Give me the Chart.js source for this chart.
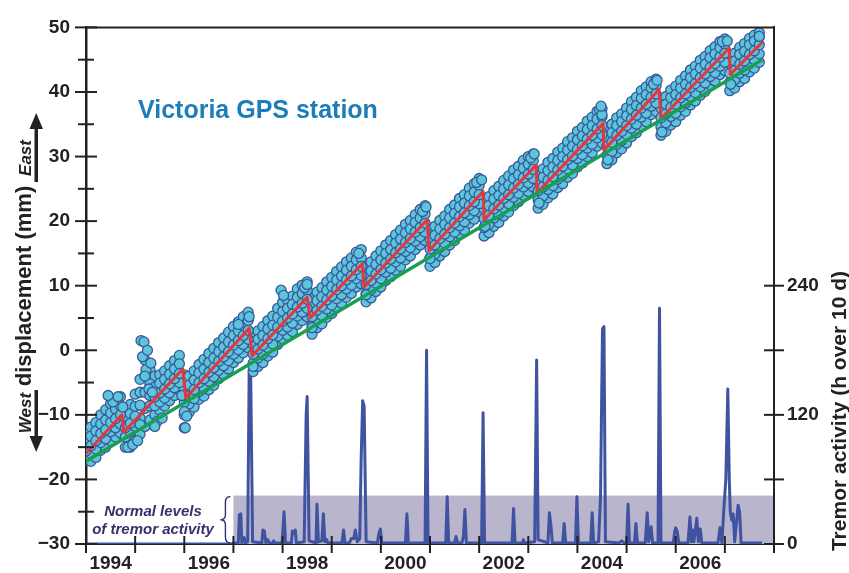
<!DOCTYPE html>
<html>
<head>
<meta charset="utf-8">
<script src="https://cdn.jsdelivr.net/npm/chart.js@4.4.1/dist/chart.umd.min.js"></script>
<style>
  html, body { margin: 0; padding: 0; background: #fff; }
  #wrap { width: 849px; height: 573px; }
</style>
</head>
<body>
<div id="wrap"><canvas id="gpsChart" width="849" height="573"></canvas></div>
<script>
// GPS daily positions, sampled every 0.1 yr (five rows across the width of the cloud)
const gpsYears = [
  1994.0, 1994.1, 1994.2, 1994.3, 1994.4, 1994.5, 1994.6, 1994.7, 1994.8, 1994.9,
  1995.0, 1995.1, 1995.2, 1995.3, 1995.4, 1995.5, 1995.6, 1995.7, 1995.8, 1995.9,
  1996.0, 1996.1, 1996.2, 1996.3, 1996.4, 1996.5, 1996.6, 1996.7, 1996.8, 1996.9,
  1997.0, 1997.1, 1997.2, 1997.3, 1997.4, 1997.5, 1997.6, 1997.7, 1997.8, 1997.9,
  1998.0, 1998.1, 1998.2, 1998.3, 1998.4, 1998.5, 1998.6, 1998.7, 1998.8, 1998.9,
  1999.0, 1999.1, 1999.2, 1999.3, 1999.4, 1999.5, 1999.6, 1999.7, 1999.8, 1999.9,
  2000.0, 2000.1, 2000.2, 2000.3, 2000.4, 2000.5, 2000.6, 2000.7, 2000.8, 2000.9,
  2001.0, 2001.1, 2001.2, 2001.3, 2001.4, 2001.5, 2001.6, 2001.7, 2001.8, 2001.9,
  2002.0, 2002.1, 2002.2, 2002.3, 2002.4, 2002.5, 2002.6, 2002.7, 2002.8, 2002.9,
  2003.0, 2003.1, 2003.2, 2003.3, 2003.4, 2003.5, 2003.6, 2003.7, 2003.8, 2003.9,
  2004.0, 2004.1, 2004.2, 2004.3, 2004.4, 2004.5, 2004.6, 2004.7, 2004.8, 2004.9,
  2005.0, 2005.1, 2005.2, 2005.3, 2005.4, 2005.5, 2005.6, 2005.7, 2005.8, 2005.9,
  2006.0, 2006.1, 2006.2, 2006.3, 2006.4, 2006.5, 2006.6, 2006.7, 2006.8, 2006.9,
  2007.0, 2007.1, 2007.2, 2007.3, 2007.4, 2007.5, 2007.6, 2007.7
];
const gpsHigh = [
  -12.8, -11.9, -11.2, -10.0, -9.2, -8.3, -7.8, -7.2, -9.2, -8.4,
  -6.8, -4.5, -1.5, -3.0, -4.0, -3.8, -3.2, -2.4, -1.6, -0.8,
  -3.8, -4.0, -3.2, -2.2, -1.4, -0.5, 0.3, 1.2, 1.9, 2.8,
  3.7, 4.4, 5.2, 5.9, 2.3, 3.0, 3.7, 4.6, 5.3, 6.5,
  7.4, 7.8, 8.4, 9.5, 10.1, 10.6, 8.0, 9.0, 9.7, 10.6,
  11.3, 12.2, 12.9, 13.7, 14.3, 15.2, 15.6, 13.0, 13.7, 14.6,
  15.4, 16.3, 17.0, 17.9, 18.6, 19.5, 20.1, 21.0, 21.8, 22.4,
  18.5, 19.2, 20.1, 20.8, 21.8, 22.5, 23.5, 24.1, 25.1, 25.8,
  26.6, 23.0, 23.8, 24.7, 25.4, 26.3, 27.0, 27.9, 28.5, 29.4,
  30.0, 30.4, 27.3, 28.1, 29.1, 29.7, 30.7, 31.3, 32.3, 32.9,
  33.9, 34.5, 35.5, 36.1, 37.0, 37.4, 34.4, 35.0, 36.0, 36.6,
  37.5, 38.5, 39.2, 40.2, 40.8, 41.6, 42.0, 38.6, 39.3, 40.3,
  40.9, 41.8, 42.5, 43.4, 44.0, 44.9, 45.5, 46.4, 47.0, 47.8,
  48.2, 45.5, 46.0, 46.9, 47.5, 48.3, 48.8, 49.2
];
const gpsUpper = [
  -14.0, -13.3, -12.5, -11.4, -10.8, -9.7, -9.1, -8.6, -10.5, -9.8,
  -8.7, -6.5, -4.0, -5.2, -5.7, -5.1, -4.5, -3.7, -2.9, -2.1,
  -6.0, -5.4, -4.6, -3.5, -2.9, -1.9, -1.2, -0.2, 0.5, 1.3,
  2.3, 3.0, 3.8, 4.6, 0.9, 1.7, 2.3, 3.3, 3.9, 5.1,
  6.0, 6.5, 7.1, 8.2, 8.8, 9.3, 6.7, 7.7, 8.3, 9.3,
  9.9, 10.9, 11.5, 12.4, 13.0, 14.0, 14.3, 11.7, 12.3, 13.3,
  14.0, 15.0, 15.6, 16.6, 17.2, 18.2, 18.8, 19.8, 20.5, 21.1,
  17.2, 17.8, 18.8, 19.5, 20.5, 21.2, 22.2, 22.8, 23.9, 24.5,
  25.5, 21.9, 22.4, 23.4, 24.0, 25.0, 25.6, 26.6, 27.2, 28.2,
  28.8, 29.3, 26.2, 26.8, 27.8, 28.4, 29.4, 30.0, 31.0, 31.6,
  32.6, 33.2, 34.2, 34.8, 35.8, 36.2, 33.1, 33.7, 34.8, 35.4,
  36.3, 37.3, 37.9, 39.0, 39.6, 40.6, 41.0, 37.5, 38.1, 39.1,
  39.6, 40.6, 41.2, 42.2, 42.8, 43.7, 44.3, 45.3, 45.9, 46.8,
  47.4, 44.4, 44.8, 45.8, 46.3, 47.3, 47.9, 48.6
];
const gpsMid = [
  -15.6, -14.8, -14.0, -12.9, -12.3, -11.2, -10.6, -10.0, -12.0, -11.3,
  -10.2, -8.5, -6.5, -7.0, -7.2, -6.6, -6.0, -5.2, -4.4, -3.6,
  -8.0, -6.9, -6.1, -5.0, -4.4, -3.4, -2.7, -1.7, -1.0, -0.2,
  0.8, 1.5, 2.3, 3.1, -0.6, 0.2, 0.8, 1.8, 2.4, 3.6,
  4.5, 5.0, 5.6, 6.7, 7.3, 7.9, 5.2, 6.2, 6.8, 7.8,
  8.4, 9.4, 10.0, 10.9, 11.5, 12.5, 13.0, 10.2, 10.8, 11.8,
  12.5, 13.5, 14.1, 15.1, 15.7, 16.7, 17.3, 18.3, 19.0, 19.7,
  15.7, 16.3, 17.3, 18.0, 19.0, 19.7, 20.7, 21.3, 22.4, 23.0,
  24.1, 20.4, 20.9, 21.9, 22.5, 23.5, 24.1, 25.1, 25.7, 26.7,
  27.3, 28.0, 24.7, 25.3, 26.3, 26.9, 27.9, 28.5, 29.5, 30.1,
  31.1, 31.7, 32.7, 33.3, 34.3, 34.8, 31.6, 32.2, 33.3, 33.9,
  34.8, 35.8, 36.4, 37.5, 38.1, 39.2, 39.7, 36.0, 36.6, 37.6,
  38.1, 39.1, 39.7, 40.7, 41.3, 42.2, 42.8, 43.8, 44.4, 45.4,
  46.0, 42.9, 43.3, 44.3, 44.8, 45.8, 46.4, 47.3
];
const gpsLower = [
  -16.4, -16.0, -15.3, -14.3, -13.7, -12.6, -12.0, -11.4, -13.4, -12.7,
  -11.8, -10.5, -9.0, -8.6, -8.6, -8.0, -7.4, -6.6, -5.8, -5.0,
  -10.0, -8.3, -7.5, -6.4, -5.8, -4.8, -4.1, -3.1, -2.4, -1.6,
  -0.6, 0.1, 0.9, 1.7, -2.0, -1.2, -0.6, 0.4, 1.0, 2.2,
  3.1, 3.6, 4.2, 5.3, 5.9, 6.5, 3.8, 4.8, 5.4, 6.4,
  7.0, 8.0, 8.6, 9.5, 10.1, 11.1, 11.6, 8.8, 9.4, 10.4,
  11.1, 12.1, 12.7, 13.7, 14.3, 15.3, 15.9, 16.9, 17.6, 18.3,
  14.3, 14.9, 15.9, 16.6, 17.6, 18.3, 19.3, 19.9, 21.0, 21.6,
  22.7, 19.0, 19.5, 20.5, 21.1, 22.1, 22.7, 23.7, 24.3, 25.3,
  25.9, 26.6, 23.3, 23.9, 24.9, 25.5, 26.5, 27.1, 28.1, 28.7,
  29.7, 30.3, 31.3, 31.9, 32.9, 33.4, 30.2, 30.8, 31.9, 32.5,
  33.4, 34.4, 35.0, 36.1, 36.7, 37.8, 38.3, 34.6, 35.2, 36.2,
  36.7, 37.7, 38.3, 39.3, 39.9, 40.8, 41.4, 42.4, 43.0, 44.0,
  44.6, 41.5, 41.9, 42.9, 43.4, 44.4, 45.0, 45.9
];
const gpsLow = [
  -17.0, -17.2, -16.6, -15.5, -15.0, -14.0, -13.4, -12.8, -15.0, -15.0,
  -14.0, -13.0, -11.8, -10.8, -10.0, -9.3, -8.6, -7.8, -7.0, -6.2,
  -12.0, -9.6, -8.8, -7.6, -7.1, -6.1, -5.4, -4.4, -3.7, -2.9,
  -1.9, -1.2, -0.4, 0.4, -3.3, -2.5, -1.9, -0.9, -0.3, 0.9,
  1.8, 2.3, 2.9, 4.0, 4.6, 5.2, 2.5, 3.5, 4.1, 5.1,
  5.7, 6.7, 7.3, 8.2, 8.8, 9.8, 10.3, 7.5, 8.1, 9.1,
  9.8, 10.8, 11.4, 12.4, 13.0, 14.0, 14.6, 15.6, 16.3, 17.0,
  13.0, 13.6, 14.6, 15.3, 16.3, 17.0, 18.0, 18.6, 19.7, 20.3,
  21.4, 17.7, 18.2, 19.2, 19.8, 20.8, 21.4, 22.4, 23.0, 24.0,
  24.6, 25.3, 22.0, 22.6, 23.6, 24.2, 25.2, 25.8, 26.8, 27.4,
  28.4, 29.0, 30.0, 30.6, 31.6, 32.1, 28.9, 29.5, 30.6, 31.2,
  32.1, 33.1, 33.7, 34.8, 35.4, 36.5, 37.0, 33.3, 33.9, 34.9,
  35.4, 36.4, 37.0, 38.0, 38.6, 39.5, 40.1, 41.1, 41.7, 42.7,
  43.3, 40.2, 40.6, 41.6, 42.1, 43.1, 43.7, 44.6
];
// scattered outliers
const gpsExtraYears = [1994.55, 1994.65, 1994.85, 1994.95, 1995.05, 1995.12, 1995.18, 1995.15, 1995.22, 1995.25,
  1995.28, 1995.35, 1995.45, 1995.55, 1996.0, 1996.02, 1996.01, 1997.97, 1998.02, 1997.1,
  1998.45, 1999.55, 2000.85, 2001.95, 2003.05, 2004.45, 2004.5, 2005.55, 2006.95, 2007.7,
  2004.62, 2005.72, 2007.12, 2003.22, 2002.12, 2001.0, 1999.7, 1998.6, 1997.4,
  1994.45, 1994.75, 1995.1, 1995.2, 1995.32, 1995.4, 1995.95, 1996.05, 1997.32, 1998.5,
  2000.92, 2002.05, 2003.12, 2004.48, 2005.62, 2007.05];
const gpsExtraDisp = [-8.0, -7.2, -15.0, -14.6, -14.0, 1.5, 1.3, -1.0, -3.0, 0.0,
  -6.0, -6.5, -11.0, -10.5, -9.5, -12.0, -7.0, 9.3, 8.5, 4.0,
  9.7, 15.0, 21.5, 26.0, 29.8, 37.2, 36.5, 41.2, 47.8, 48.6,
  29.5, 33.8, 41.2, 22.8, 19.2, 14.2, 8.6, 3.5, -2.5,
  -7.0, -8.8, -11.5, -4.0, -2.0, -11.8, -7.0, -10.2, 5.2, 10.2,
  22.2, 26.4, 30.4, 37.8, 41.8, 47.9];

// slow-slip model (sawtooth) and long-term trend
const modelYears = [1994.0, 1994.73, 1994.77, 1995.97, 1996.03, 1997.32, 1997.38, 1998.50, 1998.56, 1999.62, 1999.66, 2000.94,
  2000.98, 2002.08, 2002.10, 2003.16, 2003.18, 2004.52, 2004.54, 2005.66, 2005.70, 2007.09, 2007.11, 2007.76];
const modelDisp = [-16.0, -10.0, -12.7, -2.9, -7.4, 3.4, -0.9, 8.2, 5.0, 13.4, 9.8, 20.2,
  15.4, 24.6, 20.2, 28.7, 24.4, 35.1, 31.0, 40.4, 35.9, 46.8, 42.7, 47.7];
const trendYears = [1994.0, 2007.76];
const trendDisp = [-17.2, 45.0];

// tremor activity (hours per 10 days)
const tremorYears = [
  1994.0, 1996.95, 1997.0,
  1997.10, 1997.12, 1997.15, 1997.17,
  1997.22, 1997.24,
  1997.29, 1997.32, 1997.35, 1997.39,
  1997.58, 1997.60, 1997.63, 1997.66, 1997.70, 1997.73,
  1997.80, 1997.82, 1997.84,
  1997.99, 1998.03, 1998.06,
  1998.18, 1998.20, 1998.23, 1998.26, 1998.28,
  1998.44, 1998.48, 1998.50, 1998.54,
  1998.68, 1998.70, 1998.73, 1998.80, 1998.83, 1998.86, 1998.90, 1998.92,
  1999.21, 1999.24, 1999.27,
  1999.36, 1999.40, 1999.45, 1999.48, 1999.52,
  1999.57, 1999.60, 1999.63, 1999.66, 1999.70,
  1999.93, 1999.96, 1999.99, 2000.02,
  2000.50, 2000.53, 2000.56,
  2000.90, 2000.93, 2000.96,
  2001.32, 2001.35, 2001.38,
  2001.50, 2001.53, 2001.56,
  2001.65, 2001.68, 2001.71, 2001.74,
  2002.05, 2002.08, 2002.11,
  2002.67, 2002.70, 2002.73,
  2002.88, 2002.90, 2002.92,
  2003.13, 2003.17, 2003.20,
  2003.40, 2003.43, 2003.46, 2003.49,
  2003.70, 2003.73, 2003.76,
  2003.96, 2003.99, 2004.02,
  2004.27, 2004.30, 2004.33,
  2004.43, 2004.47, 2004.51, 2004.54, 2004.57,
  2004.85, 2004.90, 2004.95,
  2005.00, 2005.03, 2005.06,
  2005.16, 2005.19, 2005.22,
  2005.38, 2005.42, 2005.45, 2005.50, 2005.53,
  2005.64, 2005.67, 2005.70,
  2005.95, 2005.98, 2006.00, 2006.03, 2006.06,
  2006.25, 2006.29, 2006.32, 2006.35, 2006.37, 2006.43, 2006.46, 2006.50, 2006.53,
  2006.86, 2006.90, 2006.94, 2006.98, 2007.02, 2007.06, 2007.09, 2007.11, 2007.14, 2007.17, 2007.20, 2007.27, 2007.30, 2007.33,
  2007.76
];
const tremorHours = [
  0, 0, 1,
  1, 27, 28, 1,
  6, 1,
  2, 158, 163, 2,
  1, 13, 12, 1, 4, 1,
  1, 3, 1,
  1, 30, 1,
  1, 12, 10, 13, 1,
  2, 120, 137, 3,
  1, 37, 2, 3, 28, 2, 4, 1,
  1, 13, 1,
  1, 5, 5, 13, 2,
  5, 80, 133, 128, 2,
  1, 10, 14, 1,
  1, 28, 1,
  1, 180, 1,
  1, 44, 1,
  1, 7, 1,
  1, 7, 32, 1,
  1, 122, 1,
  1, 33, 1,
  1, 4, 1,
  2, 171, 4,
  1, 29, 17, 1,
  1, 19, 1,
  1, 44, 1,
  1, 29, 1,
  2, 44, 200, 202, 2,
  1, 3, 1,
  1, 37, 1,
  1, 19, 1,
  1, 29, 2, 16, 1,
  1, 219, 1,
  1, 12, 15, 12, 1,
  1, 25, 2, 13, 2, 24, 2, 14, 1,
  1, 15, 1, 33, 60, 144, 60, 30, 22, 28, 2, 36, 30, 1,
  1
];
const normalLevel = 45;     // top of the "normal levels" band, h over 10 d
const normalStart = 1997;

// axis ticks
const xLabelYears = [1994, 1996, 1998, 2000, 2002, 2004, 2006];
const yearMarks = [1994, 1995, 1996, 1997, 1998, 1999, 2000, 2001, 2002, 2003, 2004, 2005, 2006, 2007, 2008];
const rightTicks = [0, 60, 120, 180, 240];
const rightLabels = [0, 120, 240];

const FONT = "'Liberation Sans', Arial, sans-serif";
const INK = '#222';

function pairs(xs, ys) {
  let out = [];
  for (let i = 0; i < Math.min(xs.length, ys.length); i++) out.push({ x: xs[i], y: ys[i] });
  return out;
}

let gpsPoints = pairs(gpsYears, gpsHigh).concat(
  pairs(gpsYears, gpsLow),
  pairs(gpsYears, gpsUpper),
  pairs(gpsYears, gpsLower),
  pairs(gpsYears, gpsMid),
  pairs(gpsExtraYears, gpsExtraDisp)
);

function minusLabel(v) {
  return v < 0 ? '\u2212' + Math.abs(v) : String(v);
}

// band + brace + texts + crossing tick marks
const decorations = {
  id: 'decorations',
  beforeDatasetsDraw(chart) {
    const { ctx, scales: { x, yR } } = chart;
    const left = x.getPixelForValue(normalStart);
    const right = x.getPixelForValue(x.max) - 1;
    const top = yR.getPixelForValue(normalLevel);
    const bottom = yR.getPixelForValue(0);
    ctx.save();
    ctx.fillStyle = 'rgb(185,181,205)';
    ctx.fillRect(left, top, right - left, bottom - top);
    ctx.restore();
  },
  afterDraw(chart) {
    const { ctx, chartArea, scales: { x, y, yR } } = chart;
    ctx.save();

    // top frame line
    ctx.strokeStyle = INK;
    ctx.lineWidth = 2;
    ctx.beginPath();
    ctx.moveTo(chartArea.left - 1, chartArea.top);
    ctx.lineTo(chartArea.right + 1, chartArea.top);
    ctx.stroke();

    // tick marks crossing the axes
    y.ticks.forEach(t => {
      const py = y.getPixelForValue(t.value);
      const len = t.value % 10 === 0 ? 11 : 8;
      ctx.beginPath();
      ctx.moveTo(chartArea.left - len, py);
      ctx.lineTo(chartArea.left + len, py);
      ctx.stroke();
    });
    yearMarks.forEach(yr => {
      const px = x.getPixelForValue(yr);
      ctx.beginPath();
      ctx.moveTo(px, chartArea.bottom - 8);
      ctx.lineTo(px, chartArea.bottom + 9);
      ctx.stroke();
    });
    rightTicks.forEach(v => {
      const py = yR.getPixelForValue(v);
      ctx.beginPath();
      ctx.moveTo(chartArea.right - 10, py);
      ctx.lineTo(chartArea.right + 10, py);
      ctx.stroke();
    });

    // title
    ctx.fillStyle = '#1d7cba';
    ctx.font = 'bold 25px ' + FONT;
    ctx.textAlign = 'left';
    ctx.textBaseline = 'alphabetic';
    ctx.fillText('Victoria GPS station', 138, 118);

    // normal levels note + brace
    const bandTop = yR.getPixelForValue(normalLevel);
    const bandBottom = yR.getPixelForValue(0);
    const bx = x.getPixelForValue(normalStart) - 8;
    ctx.fillStyle = '#35306e';
    ctx.strokeStyle = '#35306e';
    ctx.font = 'italic bold 15px ' + FONT;
    ctx.textAlign = 'center';
    ctx.fillText('Normal levels', 153, 516);
    ctx.fillText('of tremor activity', 153, 534);
    const mid = (bandTop + bandBottom) / 2;
    ctx.lineWidth = 1.4;
    ctx.beginPath();
    ctx.moveTo(bx + 5, bandTop + 1);
    ctx.quadraticCurveTo(bx, bandTop + 1, bx, bandTop + 7);
    ctx.lineTo(bx, mid - 5);
    ctx.quadraticCurveTo(bx, mid, bx - 5, mid);
    ctx.quadraticCurveTo(bx, mid, bx, mid + 5);
    ctx.lineTo(bx, bandBottom - 7);
    ctx.quadraticCurveTo(bx, bandBottom - 1, bx + 5, bandBottom - 1);
    ctx.stroke();

    // left axis title: West  displacement (mm)  East, with arrows
    ctx.fillStyle = INK;
    const rot = (text, cx, cy, font) => {
      ctx.save();
      ctx.translate(cx, cy);
      ctx.rotate(-Math.PI / 2);
      ctx.font = font;
      ctx.textAlign = 'center';
      ctx.textBaseline = 'alphabetic';
      ctx.fillText(text, 0, 0);
      ctx.restore();
    };
    rot('East', 31, 158, 'italic bold 17px ' + FONT);
    rot('displacement (mm)', 31, 286, 'bold 22px ' + FONT);
    rot('West', 31, 413, 'italic bold 17px ' + FONT);
    // arrows
    ctx.fillRect(34.5, 127, 3.5, 55);
    ctx.beginPath();
    ctx.moveTo(36.2, 113);
    ctx.lineTo(43, 129);
    ctx.lineTo(29.5, 129);
    ctx.closePath();
    ctx.fill();
    ctx.fillRect(34.5, 390, 3.5, 48);
    ctx.beginPath();
    ctx.moveTo(36.2, 452);
    ctx.lineTo(43, 436);
    ctx.lineTo(29.5, 436);
    ctx.closePath();
    ctx.fill();

    // right axis title
    rot('Tremor activity (h over 10 d)', 846, 411, 'bold 21px ' + FONT);

    ctx.restore();
  }
};

new Chart(document.getElementById('gpsChart'), {
  data: {
    datasets: [
      {
        type: 'line',
        label: 'trend',
        data: pairs(trendYears, trendDisp),
        yAxisID: 'y',
        borderColor: '#18a050',
        borderWidth: 3.5,
        pointRadius: 0,
        order: 1
      },
      {
        type: 'line',
        label: 'model',
        data: pairs(modelYears, modelDisp),
        yAxisID: 'y',
        borderColor: '#e4363c',
        borderWidth: 3,
        pointRadius: 0,
        borderJoinStyle: 'round',
        order: 2
      },
      {
        type: 'scatter',
        label: 'GPS',
        data: gpsPoints,
        yAxisID: 'y',
        backgroundColor: '#5cc5dc',
        borderColor: '#3a5898',
        borderWidth: 1.3,
        pointRadius: 5,
        order: 3
      },
      {
        type: 'line',
        label: 'tremor',
        data: pairs(tremorYears, tremorHours),
        yAxisID: 'yR',
        borderColor: '#3f53a0',
        borderWidth: 3,
        pointRadius: 0,
        borderJoinStyle: 'round',
        order: 4
      }
    ]
  },
  options: {
    responsive: false,
    animation: false,
    layout: { padding: { top: 17, left: 0, right: 0, bottom: 0 } },
    plugins: { legend: { display: false }, tooltip: { enabled: false } },
    scales: {
      x: {
        type: 'linear',
        min: 1994,
        max: 2008,
        grid: { display: false, drawTicks: false },
        border: { display: true, color: INK, width: 2 },
        afterBuildTicks: s => { s.ticks = xLabelYears.map(v => ({ value: v + 0.5 })); },
        afterFit: s => { s.height = 29; },
        ticks: {
          autoSkip: false,
          maxRotation: 0,
          padding: 8,
          color: INK,
          font: { family: FONT, size: 19, weight: 'bold' },
          callback: v => String(Math.floor(v))
        }
      },
      y: {
        type: 'linear',
        position: 'left',
        min: -30,
        max: 50,
        grid: { display: false, drawTicks: false },
        border: { display: true, color: INK, width: 2.5 },
        afterFit: s => { s.width = 86; },
        ticks: {
          stepSize: 5,
          autoSkip: false,
          padding: 16,
          color: INK,
          font: { family: FONT, size: 19, weight: 'bold' },
          callback: v => (v % 10 === 0 ? minusLabel(v) : '')
        }
      },
      yR: {
        type: 'linear',
        position: 'right',
        min: 0,
        max: 480,
        grid: { display: false, drawTicks: false },
        border: { display: true, color: INK, width: 2 },
        afterBuildTicks: s => { s.ticks = rightTicks.map(v => ({ value: v })); },
        afterFit: s => { s.width = 75; },
        ticks: {
          autoSkip: false,
          padding: 13,
          color: INK,
          font: { family: FONT, size: 19, weight: 'bold' },
          callback: v => (rightLabels.includes(v) ? String(v) : '')
        }
      }
    }
  },
  plugins: [decorations]
});
</script>
</body>
</html>
